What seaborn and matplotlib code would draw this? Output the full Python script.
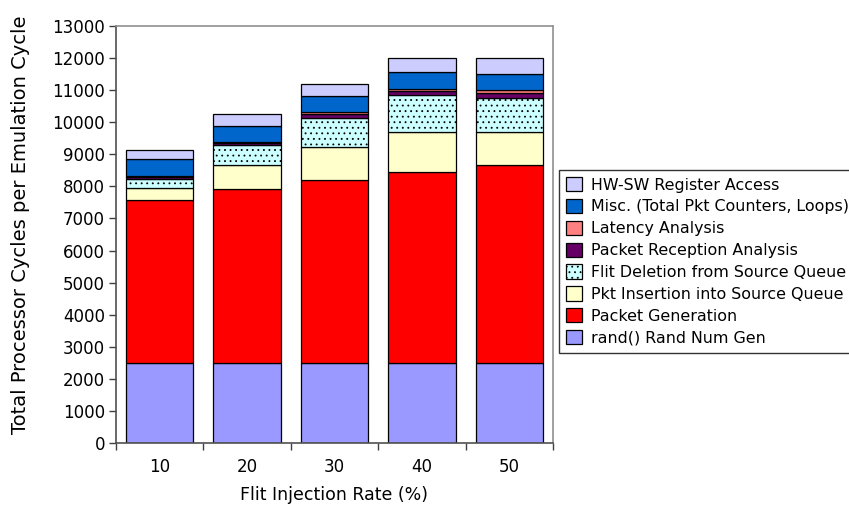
import matplotlib
matplotlib.use("Agg")
import matplotlib.pyplot as plt
import matplotlib.patches as mpatches
import numpy as np
import seaborn as sns

# Flit injection rates (x categories)
rates = ["10", "20", "30", "40", "50"]

# Processor cycles per emulation cycle, by component (stacked bottom to top)
rand_num_gen = [2500, 2500, 2500, 2500, 2500]
packet_generation = [5080, 5420, 5700, 5940, 6160]
pkt_insertion = [360, 740, 1030, 1250, 1040]
flit_deletion = [280, 630, 890, 1150, 1070]
packet_reception = [70, 60, 125, 125, 130]
latency_analysis = [30, 25, 60, 80, 110]
misc_counters = [530, 517, 500, 510, 500]
hw_sw_register = [290, 355, 400, 455, 480]

series_names = [
    "rand() Rand Num Gen",
    "Packet Generation",
    "Pkt Insertion into Source Queue",
    "Flit Deletion from Source Queue",
    "Packet Reception Analysis",
    "Latency Analysis",
    "Misc. (Total Pkt Counters, Loops)",
    "HW-SW Register Access",
]
series_values = [
    rand_num_gen, packet_generation, pkt_insertion, flit_deletion,
    packet_reception, latency_analysis, misc_counters, hw_sw_register,
]
series_colors = [
    "#9999FF", "#FF0000", "#FFFFCC", "#CCFFFF",
    "#660066", "#FF8080", "#0066CC", "#CCCCFF",
]
series_hatch = [None, None, None, "...", None, None, None, None]

sns.set_style("white")
plt.rcParams["font.family"] = ["DejaVu Sans"]
plt.rcParams["text.color"] = "black"
plt.rcParams["axes.labelcolor"] = "black"
plt.rcParams["xtick.labelcolor"] = "black"
plt.rcParams["ytick.labelcolor"] = "black"
plt.rcParams["hatch.color"] = "#404040"
plt.rcParams["hatch.linewidth"] = 0.6

fig = plt.figure(figsize=(8.49, 5.12), dpi=100)
ax = fig.add_axes([116 / 849, 1 - 443 / 512, (553 - 116) / 849, (443 - 26) / 512])

bottoms = np.zeros(len(rates))
handles = []
for name, vals, col, hatch in zip(series_names, series_values, series_colors, series_hatch):
    vals = np.asarray(vals, dtype=float)
    sns.barplot(x=rates, y=vals, bottom=bottoms, color=col, edgecolor="black",
                linewidth=0.9, width=0.77, hatch=hatch, saturation=1, ax=ax)
    handles.append(mpatches.Patch(facecolor=col, edgecolor="black", linewidth=0.9,
                                  hatch=hatch, label=name))
    bottoms = bottoms + vals

ax.set_ylim(0, 13000)
ax.set_xlim(-0.5, len(rates) - 0.5)
ax.set_yticks(np.arange(0, 13001, 1000))
ax.tick_params(axis="y", which="major", direction="out", length=5, width=1,
               color="#404040", labelcolor="black", left=True, labelsize=12, pad=3)
ax.tick_params(axis="x", which="major", length=0, labelcolor="black", labelsize=12, pad=11)
ax.set_xticks(np.arange(-0.5, len(rates), 1.0), minor=True)
ax.tick_params(axis="x", which="minor", direction="out", length=5, width=1,
               color="#404040", bottom=True)

for side in ("top", "right"):
    ax.spines[side].set_color("#909090")
    ax.spines[side].set_linewidth(1.2)
for side in ("left", "bottom"):
    ax.spines[side].set_color("#505050")
    ax.spines[side].set_linewidth(1.2)

ax.set_xlabel("Flit Injection Rate (%)", fontsize=12.5, labelpad=7, color="black")
ax.set_ylabel("Total Processor Cycles per Emulation Cycle", fontsize=14, color="black")
ax.yaxis.set_label_coords(-0.197, 0.524)

leg = fig.legend(handles=handles[::-1], loc="upper left",
                 bbox_to_anchor=(559 / 849, 1 - 170 / 512), bbox_transform=fig.transFigure,
                 fontsize=11.4, frameon=True, fancybox=False, edgecolor="black",
                 handlelength=1.0, handleheight=1.0, handletextpad=0.6,
                 labelspacing=0.4, borderpad=0.45, borderaxespad=0, labelcolor="black")
leg.get_frame().set_linewidth(1.0)

fig.savefig("out.png", dpi=100)
